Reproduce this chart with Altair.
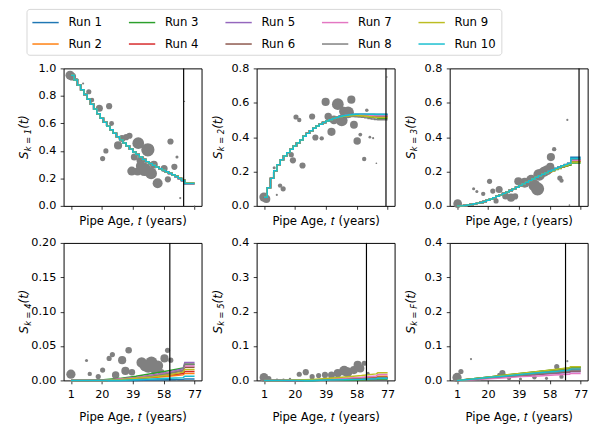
import altair as alt
import pandas as pd

# ---------------- data ----------------
RUNS = ["Run 1", "Run 2", "Run 3", "Run 4", "Run 5",
        "Run 6", "Run 7", "Run 8", "Run 9", "Run 10"]
RUN_COLORS = ["#1f77b4", "#ff7f0e", "#2ca02c", "#d62728", "#9467bd",
              "#8c564b", "#e377c2", "#7f7f7f", "#bcbd22", "#17becf"]
LEGEND_ORDER = ["Run 1", "Run 3", "Run 5", "Run 7", "Run 9",
                "Run 2", "Run 4", "Run 6", "Run 8", "Run 10"]

X_TICKS = [1, 20, 39, 58, 77]
X_TITLE = "Pipe Age, \U0001D461 (years)"

AGES_TOP = [1, 3, 5, 7, 9, 11, 13, 15, 17, 19, 21, 23, 25, 27, 29, 31, 33, 35,
            37, 39, 41, 43, 45, 47, 49, 51, 53, 55, 57, 59, 61, 63, 65, 67, 69,
            71, 77]
AGES_BOT = [1, 11, 21, 31, 41, 51, 61, 70, 71, 77]

# ---- panel 1 (k=1) ----
P1_T = [0.5, 1.8, 4.6, 8.5, 12, 14, 18.5, 24.5, 26, 22.5, 20.5, 30, 32.4, 35, 37,
        42.4, 48.3, 38.4, 46.3, 40, 44, 44, 42, 50.3, 54.3, 52, 58.3, 62.2, 60.6,
        66.2, 64.6, 68.2, 70.8, 77]
P1_V = [0.95, 0.94, 0.917, 0.89, 0.83, 0.77, 0.71, 0.725, 0.60, 0.40, 0.344, 0.44,
        0.49, 0.50, 0.51, 0.456, 0.408, 0.253, 0.265, 0.356, 0.33, 0.29, 0.25,
        0.236, 0.165, 0.30, 0.272, 0.468, 0.193, 0.356, 0.284, 0.057, 0.76, 0.0]
P1_A = [90, 65, 13, 5, 28, 20, 52, 40, 26, 28, 28, 70, 52, 40, 40,
        145, 185, 85, 185, 52, 80, 105, 65, 145, 105, 65, 52, 40, 40,
        10, 40, 5, 2, 2]
P1_COMMON = [0.95, 0.915, 0.88, 0.845, 0.81, 0.775, 0.74, 0.705, 0.67, 0.638,
             0.608, 0.58, 0.553, 0.528, 0.503, 0.48, 0.457, 0.435, 0.413, 0.392,
             0.373, 0.355, 0.338, 0.322, 0.308, 0.295, 0.283, 0.271, 0.26, 0.248]
P1_TAIL = [
    [0.238, 0.227, 0.215, 0.201, 0.186, 0.165, 0.165],
    [0.237, 0.226, 0.214, 0.200, 0.185, 0.163, 0.163],
    [0.238, 0.227, 0.215, 0.200, 0.186, 0.164, 0.164],
    [0.236, 0.225, 0.213, 0.199, 0.184, 0.162, 0.162],
    [0.235, 0.224, 0.212, 0.198, 0.183, 0.161, 0.161],
    [0.236, 0.225, 0.213, 0.199, 0.184, 0.162, 0.162],
    [0.237, 0.226, 0.214, 0.200, 0.185, 0.163, 0.163],
    [0.236, 0.225, 0.213, 0.199, 0.184, 0.162, 0.162],
    [0.238, 0.227, 0.215, 0.201, 0.186, 0.164, 0.164],
    [0.237, 0.226, 0.214, 0.200, 0.185, 0.163, 0.163],
]
P1_VLINE = 70.3

# ---- panel 2 (k=2) ----
P2_T = [1, 2.5, 7.3, 10.9, 12.8, 8.9, 20.7, 22.7, 17.8, 18.8, 24.7, 30.6, 32.6,
        36.5, 38.9, 46.4, 52.7, 54.7, 48.8, 42.5, 40.5, 56.3, 60.2, 58.3, 64.2,
        62.6, 66.1, 68.1, 70.1, 76.6, 44, 50]
P2_V = [0.051, 0.04, 0.222, 0.118, 0.099, 0.064, 0.517, 0.50, 0.298, 0.265, 0.235,
        0.52, 0.398, 0.393, 0.605, 0.592, 0.544, 0.618, 0.497, 0.431, 0.52, 0.472,
        0.415, 0.378, 0.557, 0.273, 0.40, 0.394, 0.248, 0.75, 0.50, 0.55]
P2_A = [90, 65, 10, 20, 28, 5, 28, 20, 28, 40, 40, 40, 40, 20, 70, 145, 145, 70,
        145, 70, 58, 65, 15, 58, 13, 20, 8, 5, 3, 2, 80, 90]
P2_COMMON = [0.05, 0.105, 0.16, 0.205, 0.24, 0.268, 0.29, 0.31, 0.33, 0.348,
             0.366, 0.383, 0.405, 0.422, 0.437, 0.452, 0.465, 0.475, 0.485,
             0.494, 0.501, 0.508, 0.514]
P2_TAIL = [
    [0.520, 0.524, 0.527, 0.530, 0.532, 0.533, 0.534, 0.534, 0.534, 0.534, 0.534, 0.533, 0.533, 0.533],
    [0.519, 0.523, 0.526, 0.528, 0.530, 0.531, 0.531, 0.531, 0.530, 0.530, 0.529, 0.528, 0.528, 0.528],
    [0.517, 0.520, 0.522, 0.523, 0.524, 0.523, 0.522, 0.520, 0.518, 0.516, 0.514, 0.512, 0.510, 0.510],
    [0.519, 0.522, 0.525, 0.527, 0.528, 0.529, 0.529, 0.528, 0.527, 0.526, 0.525, 0.524, 0.523, 0.523],
    [0.520, 0.524, 0.527, 0.529, 0.531, 0.532, 0.532, 0.532, 0.531, 0.531, 0.530, 0.529, 0.529, 0.529],
    [0.518, 0.521, 0.524, 0.526, 0.527, 0.527, 0.527, 0.526, 0.525, 0.523, 0.522, 0.520, 0.519, 0.519],
    [0.519, 0.523, 0.526, 0.528, 0.529, 0.530, 0.530, 0.529, 0.528, 0.527, 0.526, 0.525, 0.524, 0.524],
    [0.516, 0.518, 0.519, 0.520, 0.520, 0.519, 0.517, 0.515, 0.512, 0.509, 0.506, 0.503, 0.501, 0.501],
    [0.518, 0.521, 0.523, 0.525, 0.526, 0.526, 0.525, 0.523, 0.521, 0.519, 0.517, 0.515, 0.514, 0.514],
    [0.520, 0.524, 0.527, 0.530, 0.532, 0.533, 0.534, 0.534, 0.534, 0.533, 0.533, 0.532, 0.532, 0.532],
]
P2_VLINE = 76.0

# ---- panel 3 (k=3) ----
P3_T = [1.4, 11.2, 13.2, 17.1, 21, 23, 25, 26.9, 30.9, 34.2, 36.7, 38.7, 42.6,
        46.6, 50.5, 48.5, 51.5, 54.4, 56.4, 58.7, 60.7, 58.3, 64.2, 65.2, 68.8, 70.1]
P3_V = [0.013, 0.10, 0.084, 0.07, 0.143, 0.086, 0.029, 0.095, 0.057, 0.048, 0.055,
        0.143, 0.135, 0.152, 0.099, 0.12, 0.181, 0.198, 0.208, 0.284, 0.33, 0.227,
        0.162, 0.147, 0.50, 0.004]
P3_A = [80, 10, 10, 20, 28, 28, 28, 52, 52, 70, 40, 70, 105, 105, 185, 145, 145, 105,
        105, 70, 20, 70, 28, 20, 5, 3]
P3_COMMON = [0.0, 0.0, 0.002, 0.005, 0.008, 0.012, 0.016, 0.02, 0.026, 0.033,
             0.04, 0.048, 0.056, 0.064, 0.072, 0.08, 0.089, 0.099, 0.109, 0.119,
             0.128, 0.138, 0.147, 0.157, 0.166, 0.175, 0.184, 0.192]
P3_TAIL = [
    [0.202, 0.210, 0.218, 0.226, 0.234, 0.241, 0.248, 0.283, 0.283],
    [0.200, 0.208, 0.216, 0.223, 0.231, 0.238, 0.245, 0.266, 0.266],
    [0.197, 0.204, 0.211, 0.218, 0.225, 0.231, 0.237, 0.250, 0.250],
    [0.199, 0.207, 0.214, 0.221, 0.229, 0.236, 0.242, 0.260, 0.260],
    [0.201, 0.209, 0.217, 0.224, 0.232, 0.239, 0.246, 0.271, 0.271],
    [0.199, 0.206, 0.214, 0.221, 0.228, 0.235, 0.242, 0.259, 0.259],
    [0.200, 0.208, 0.216, 0.223, 0.231, 0.238, 0.245, 0.265, 0.265],
    [0.201, 0.209, 0.217, 0.225, 0.233, 0.240, 0.247, 0.272, 0.272],
    [0.198, 0.205, 0.213, 0.220, 0.227, 0.234, 0.240, 0.255, 0.255],
    [0.201, 0.209, 0.217, 0.225, 0.233, 0.240, 0.247, 0.276, 0.276],
]
P3_VLINE = 76.0

# ---- panel 4 (k=4) ----
P4_T = [1, 10.6, 12.6, 17.8, 20.5, 26.5, 24.5, 28.5, 32.5, 36.5, 34.5, 38.5, 44.5,
        46.5, 50.5, 48.5, 52.5, 54.5, 58.5, 60.4, 62.4, 56.5, 66]
P4_V = [0.009, 0.029, 0.0095, 0.0057, 0.015, 0.0376, 0.032, 0.008, 0.0295, 0.0438,
        0.0138, 0.012, 0.026, 0.021, 0.026, 0.02, 0.0186, 0.0214, 0.032, 0.0438,
        0.0295, 0.012, 0.001]
P4_A = [90, 10, 20, 28, 28, 28, 28, 58, 70, 45, 70, 45, 115, 115, 155, 155, 155, 115,
        70, 28, 28, 45, 5]
P4_RUNS = [
    [0, 0, 0, 0, 0, 0.0005, 0.001, 0.0015, 0.002, 0.002],
    [0, 0, 0, 0.001, 0.002, 0.004, 0.006, 0.008, 0.010, 0.010],
    [0, 0, 0.001, 0.003, 0.006, 0.010, 0.014, 0.018, 0.023, 0.023],
    [0, 0, 0, 0.001, 0.003, 0.005, 0.008, 0.010, 0.013, 0.013],
    [0, 0, 0, 0.002, 0.004, 0.008, 0.012, 0.017, 0.026, 0.026],
    [0, 0, 0, 0.002, 0.004, 0.007, 0.010, 0.014, 0.019, 0.019],
    [0, 0, 0, 0.002, 0.004, 0.007, 0.011, 0.015, 0.021, 0.021],
    [0, 0, 0, 0.001, 0.003, 0.006, 0.010, 0.015, 0.024, 0.024],
    [0, 0, 0, 0.001, 0.003, 0.005, 0.008, 0.012, 0.016, 0.016],
    [0, 0, 0, 0, 0.001, 0.002, 0.003, 0.004, 0.006, 0.006],
]
P4_VLINE = 61.8

# ---- panel 5 (k=5) ----
P5_T = [1, 4, 9, 13, 17, 22.7, 26.7, 30.6, 34.6, 38.5, 42.5, 46.4, 50.3, 52.3,
        56.3, 58.6, 60.2, 62.6, 65, 64]
P5_V = [0.0086, 0.005, 0.002, 0.002, 0.004, 0.018, 0.024, 0.011, 0.014, 0.016,
        0.016, 0.021, 0.028, 0.024, 0.03, 0.045, 0.035, 0.05, 0.021, 0.007]
P5_A = [80, 28, 6, 6, 6, 28, 40, 28, 28, 40, 52, 70, 105, 105, 70, 70, 70, 28, 10, 10]
P5_RUNS = [
    [0, 0, 0, 0, 0.001, 0.002, 0.003, 0.004, 0.005, 0.005],
    [0, 0, 0, 0.001, 0.002, 0.004, 0.006, 0.009, 0.012, 0.012],
    [0, 0, 0, 0, 0.001, 0.001, 0.002, 0.003, 0.004, 0.004],
    [0, 0, 0, 0.001, 0.002, 0.003, 0.004, 0.006, 0.008, 0.008],
    [0, 0, 0, 0.001, 0.002, 0.003, 0.004, 0.005, 0.007, 0.007],
    [0, 0, 0, 0.001, 0.002, 0.003, 0.005, 0.007, 0.009, 0.009],
    [0, 0, 0, 0.001, 0.003, 0.006, 0.009, 0.013, 0.017, 0.017],
    [0, 0, 0, 0.001, 0.002, 0.003, 0.005, 0.006, 0.008, 0.008],
    [0, 0, 0.001, 0.003, 0.006, 0.010, 0.014, 0.019, 0.022, 0.022],
    [0, 0, 0, 0, 0.001, 0.002, 0.003, 0.005, 0.006, 0.006],
]
P5_VLINE = 64.0

# ---- panel 6 (k=F) ----
P6_T = [1, 3.4, 9.6, 28.9, 27, 33, 48.6, 62.3, 68.8, 65.2, 64.2, 15, 40, 56]
P6_V = [0.0086, 0.026, 0.062, 0.021, 0.016, 0.007, 0.009, 0.04, 0.056, 0.011,
        0.026, 0.003, 0.004, 0.006]
P6_A = [90, 28, 5, 40, 20, 20, 20, 28, 5, 20, 10, 6, 10, 10]
P6_RUNS = [
    [0, 0.005, 0.010, 0.015, 0.020, 0.025, 0.030, 0.034, 0.037, 0.037],
    [0, 0.004, 0.009, 0.014, 0.019, 0.023, 0.028, 0.032, 0.035, 0.035],
    [0, 0.005, 0.010, 0.016, 0.021, 0.026, 0.031, 0.036, 0.039, 0.039],
    [0, 0.004, 0.008, 0.012, 0.016, 0.020, 0.025, 0.028, 0.031, 0.031],
    [0, 0.003, 0.007, 0.010, 0.013, 0.017, 0.020, 0.023, 0.025, 0.025],
    [0, 0.003, 0.007, 0.011, 0.014, 0.018, 0.022, 0.025, 0.027, 0.027],
    [0, 0.002, 0.005, 0.008, 0.011, 0.013, 0.016, 0.018, 0.020, 0.020],
    [0, 0.003, 0.008, 0.012, 0.015, 0.019, 0.023, 0.027, 0.029, 0.029],
    [0, 0.005, 0.010, 0.016, 0.021, 0.026, 0.032, 0.037, 0.040, 0.040],
    [0, 0.004, 0.009, 0.013, 0.018, 0.022, 0.026, 0.030, 0.033, 0.033],
]
P6_VLINE = 67.7

# ---------------- chart ----------------
FONT = "DejaVu Sans"
W, H = 141.5, 141
X_DOMAIN = [-3.5, 81.3]

color_scale = alt.Scale(domain=LEGEND_ORDER,
                        range=[RUN_COLORS[RUNS.index(r)] for r in LEGEND_ORDER])
legend = alt.Legend(
    title=None, orient="none", legendX=-38, legendY=-61, direction="horizontal",
    columns=5, symbolType="M-1,0H2.375", symbolSize=256, symbolStrokeWidth=1.5,
    labelFontSize=12, labelFont=FONT, labelColor="black", labelOffset=20,
    columnPadding=24, rowPadding=7, padding=5, strokeColor="#d6d6d6",
    fillColor="white", cornerRadius=3,
)


def run_frames(ages, series_list):
    frames = []
    for run, vals in zip(RUNS, series_list):
        frames.append(pd.DataFrame({"t": ages, "v": vals, "run": run}))
    return frames


def title_layers(sub):
    y0 = 93
    base = dict(angle=270, align="left", baseline="middle", color="black",
                font=FONT, fontStyle="italic")
    s = alt.Chart(pd.DataFrame({"txt": ["S"]})).mark_text(fontSize=12, **base).encode(
        text="txt:N", x=alt.value(-40), y=alt.value(y0))
    k = alt.Chart(pd.DataFrame({"txt": [sub]})).mark_text(fontSize=8.5, **base).encode(
        text="txt:N", x=alt.value(-36.5), y=alt.value(y0 - 8))
    p = alt.Chart(pd.DataFrame({"txt": ["(t)"]})).mark_text(fontSize=12, **base).encode(
        text="txt:N", x=alt.value(-40), y=alt.value(y0 - 8 - 23))
    return [s, k, p]


def panel(T, V, A, frames, interp, vline, ydom, yticks, yfmt, sub, bottom):
    xscale = alt.Scale(domain=X_DOMAIN, nice=False, zero=False)
    yscale = alt.Scale(domain=ydom, nice=False, zero=False)
    xaxis = alt.Axis(values=X_TICKS, labels=bottom, title=X_TITLE,
                     titlePadding=12 if bottom else 6, labelPadding=5,
                     labelOverlap=False, labelBound=False, labelFlush=False)
    yaxis = alt.Axis(values=yticks, format=yfmt, title=None, labelPadding=4.5,
                     labelOverlap=False, labelBound=False, labelFlush=False)
    X = alt.X("t:Q", scale=xscale, axis=xaxis)
    Y = alt.Y("v:Q", scale=yscale, axis=yaxis)
    sc = pd.DataFrame({"t": T, "v": V, "a": A})
    pts = alt.Chart(sc).mark_circle(color="#808080", opacity=1).encode(
        x=X, y=Y, size=alt.Size("a:Q", scale=None, legend=None),
    )
    lines = []
    for f in frames:
        lines.append(alt.Chart(f).mark_line(interpolate=interp, strokeWidth=1.5).encode(
            x=X, y=Y,
            color=alt.Color("run:N", scale=color_scale, legend=legend)))
    rule = alt.Chart(pd.DataFrame({"t": [vline]})).mark_rule(
        color="black", strokeWidth=1.2).encode(x=X)
    return alt.layer(pts, *lines, rule, *title_layers(sub)).properties(width=W, height=H)


p1 = panel(P1_T, P1_V, P1_A,
           run_frames(AGES_TOP, [P1_COMMON + t for t in P1_TAIL]), "step-after",
           P1_VLINE, [0, 1], [0, 0.2, 0.4, 0.6, 0.8, 1.0], ".1f", "k = 1", False)
p2 = panel(P2_T, P2_V, P2_A,
           run_frames(AGES_TOP, [P2_COMMON + t for t in P2_TAIL]), "step-after",
           P2_VLINE, [0, 0.8], [0, 0.2, 0.4, 0.6, 0.8], ".1f", "k = 2", False)
p3 = panel(P3_T, P3_V, P3_A,
           run_frames(AGES_TOP, [P3_COMMON + t for t in P3_TAIL]), "step-after",
           P3_VLINE, [0, 0.8], [0, 0.2, 0.4, 0.6, 0.8], ".1f", "k = 3", False)
p4 = panel(P4_T, P4_V, P4_A, run_frames(AGES_BOT, P4_RUNS), "linear",
           P4_VLINE, [0, 0.2], [0, 0.05, 0.10, 0.15, 0.20], ".2f", "k = 4", True)
p5 = panel(P5_T, P5_V, P5_A, run_frames(AGES_BOT, P5_RUNS), "linear",
           P5_VLINE, [0, 0.4], [0, 0.1, 0.2, 0.3, 0.4], ".1f", "k = 5", True)
p6 = panel(P6_T, P6_V, P6_A, run_frames(AGES_BOT, P6_RUNS), "linear",
           P6_VLINE, [0, 0.4], [0, 0.1, 0.2, 0.3, 0.4], ".1f", "k = F", True)

chart = alt.concat(p1, p2, p3, p4, p5, p6, columns=3,
                   spacing={"row": 38, "column": 56}).properties(
    bounds="flush",
    padding={"left": 10, "top": -5.5, "right": 5, "bottom": 5},
).resolve_scale(color="shared").resolve_legend(color="shared").configure(
    font=FONT,
).configure_axis(
    labelFont=FONT, labelFontSize=11.5, labelColor="black",
    tickColor="black", tickSize=3.5, tickWidth=0.8,
    domain=False, grid=False, labelOverlap=False,
    titleFont=FONT, titleFontSize=12, titleFontWeight="normal", titleColor="black",
).configure_view(stroke="black", strokeWidth=1)

chart.save("out.html", embed_options={"renderer": "svg", "actions": False})
